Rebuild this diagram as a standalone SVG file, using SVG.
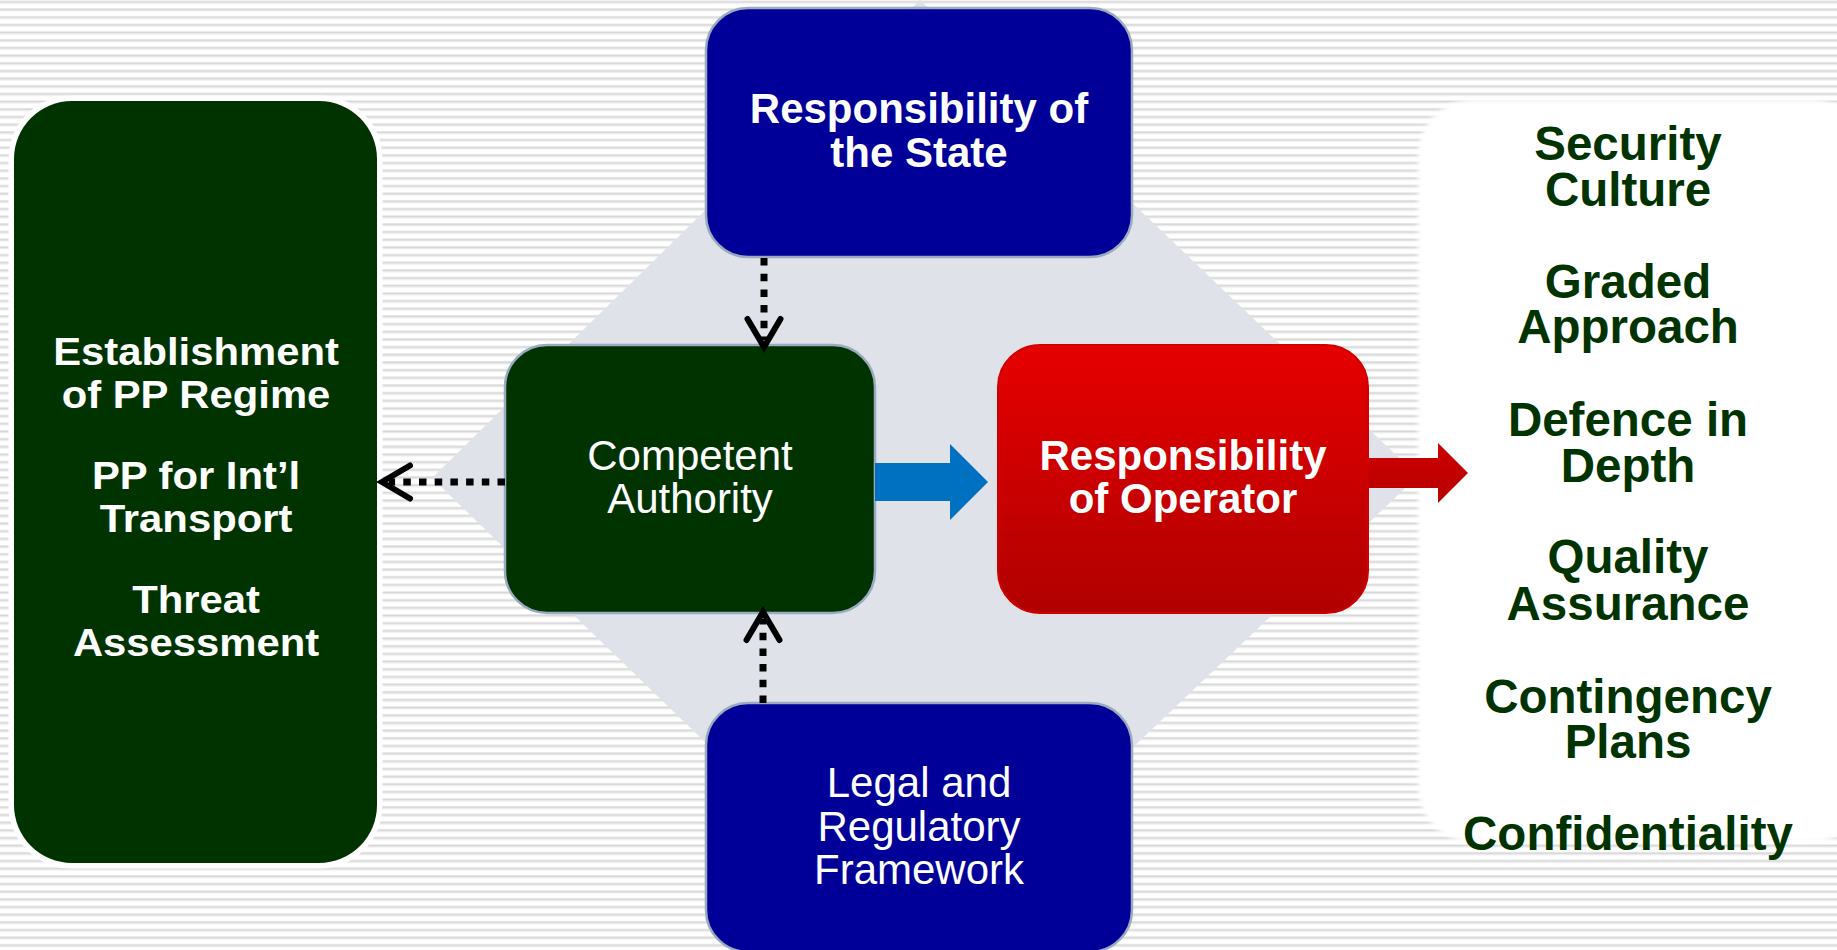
<svg xmlns="http://www.w3.org/2000/svg" width="1837" height="950" viewBox="0 0 1837 950">
<defs>
<pattern id="stripes" patternUnits="userSpaceOnUse" width="20" height="7.67" y="0.5">
<rect width="20" height="7.67" fill="#ffffff"/>
<rect y="0" width="20" height="1" fill="#e7e7e7"/>
<rect y="1" width="20" height="1.5" fill="#d6d6d6"/>
<rect y="2.5" width="20" height="0.8" fill="#ebebeb"/>
</pattern>
<linearGradient id="redGrad" x1="0" y1="0" x2="0" y2="1">
<stop offset="0" stop-color="#e60000"/>
<stop offset="1" stop-color="#b00000"/>
</linearGradient>
<linearGradient id="redArrowGrad" x1="0" y1="0" x2="0" y2="1">
<stop offset="0" stop-color="#cc0000"/>
<stop offset="1" stop-color="#b80000"/>
</linearGradient>
<filter id="soft" x="-5%" y="-5%" width="110%" height="110%">
<feGaussianBlur stdDeviation="2"/>
</filter>
<marker id="chev" markerUnits="userSpaceOnUse" markerWidth="60" markerHeight="60" viewBox="-30 -30 60 60" refX="0" refY="0" orient="auto" overflow="visible">
<path d="M-21,-16.5 L7,0 L-21,16.5" fill="none" stroke="#000" stroke-width="6" stroke-linecap="round" stroke-linejoin="miter"/>
</marker>
</defs>
<style>
.box{stroke:#9aaabf;stroke-width:2.5}
.green{fill:#003300}
.blue{fill:#000099}
.wt{fill:#ffffff;font-family:"Liberation Sans",Arial,sans-serif;text-anchor:middle}
.b{font-weight:bold}
.gt{fill:#003300;font-family:"Liberation Sans",Arial,sans-serif;font-weight:bold;text-anchor:middle;font-size:47.5px}
.dot{stroke:#000;stroke-width:7;stroke-dasharray:7.5 8.2;fill:none;marker-end:url(#chev)}
</style>

<rect width="1837" height="950" fill="url(#stripes)"/>
<polygon id="backdrop" points="920,0 1418,476 920,950 432,478" fill="#dfe2e8"/>

<g id="right-panel">
<rect x="1418" y="100" width="450" height="742" rx="55" fill="#ffffff" filter="url(#soft)"/>
<text class="gt" x="1628" y="160">Security</text>
<text class="gt" x="1628" y="206">Culture</text>
<text class="gt" x="1628" y="298">Graded</text>
<text class="gt" x="1628" y="343">Approach</text>
<text class="gt" x="1628" y="436">Defence in</text>
<text class="gt" x="1628" y="482">Depth</text>
<text class="gt" x="1628" y="573">Quality</text>
<text class="gt" x="1628" y="620">Assurance</text>
<text class="gt" x="1628" y="713">Contingency</text>
<text class="gt" x="1628" y="758">Plans</text>
<text class="gt" x="1628" y="850">Confidentiality</text>
</g>

<g id="left-panel">
<rect x="14" y="101" width="363" height="762" rx="58" class="green" stroke="#ffffff" stroke-width="11"/>
<rect x="14" y="101" width="363" height="762" rx="58" class="green"/>
<g transform="translate(196,0) scale(1.1,1)">
<text class="wt b" x="0" y="365" font-size="38">Establishment</text>
<text class="wt b" x="0" y="408" font-size="38">of PP Regime</text>
<text class="wt b" x="0" y="489" font-size="38">PP for Int’l</text>
<text class="wt b" x="0" y="532" font-size="38">Transport</text>
<text class="wt b" x="0" y="613" font-size="38">Threat</text>
<text class="wt b" x="0" y="656" font-size="38">Assessment</text>
</g>
</g>

<g id="state">
<rect x="706" y="8" width="426" height="249" rx="42" class="box blue"/>
<text class="wt b" x="919" y="123" font-size="42">Responsibility of</text>
<text class="wt b" x="919" y="167" font-size="42">the State</text>
</g>

<g id="competent-authority">
<rect x="505" y="345" width="370" height="268" rx="42" class="box green"/>
<text class="wt" x="690" y="470" font-size="42">Competent</text>
<text class="wt" x="690" y="513" font-size="42">Authority</text>
</g>

<g id="operator">
<rect x="998" y="345" width="370" height="268" rx="42" fill="url(#redGrad)" stroke="#d00000" stroke-width="2"/>
<text class="wt b" x="1183" y="470" font-size="42">Responsibility</text>
<text class="wt b" x="1183" y="513" font-size="42">of Operator</text>
</g>

<g id="legal">
<rect x="706" y="703" width="426" height="249" rx="42" class="box blue"/>
<text class="wt" x="919" y="797" font-size="42">Legal and</text>
<text class="wt" x="919" y="841" font-size="42">Regulatory</text>
<text class="wt" x="919" y="884" font-size="42">Framework</text>
</g>

<g id="connectors">
<line class="dot" x1="764" y1="258" x2="764" y2="340"/>
<line class="dot" x1="505" y1="482" x2="389" y2="482"/>
<line class="dot" x1="763" y1="703" x2="763" y2="619"/>
<polygon points="875,463 950,463 950,444 988,482 950,520 950,501 875,501" fill="#0070c0"/>
<polygon points="1368,458 1438,458 1438,443 1468,473 1438,503 1438,488 1368,488" fill="url(#redArrowGrad)"/>
</g>
</svg>
